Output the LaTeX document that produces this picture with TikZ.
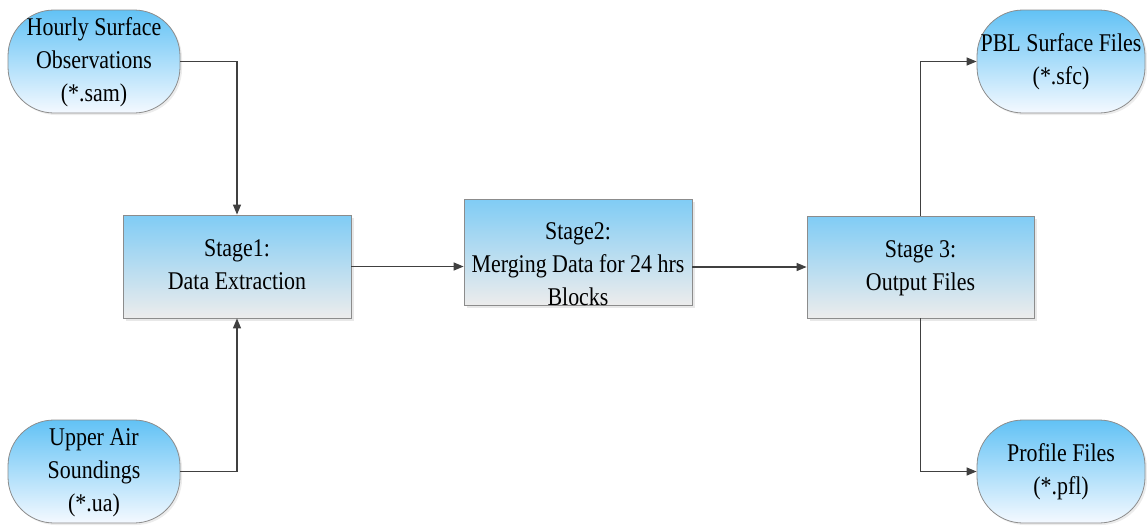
\documentclass[tikz,border=0pt]{standalone}
\usepackage{fontspec}
\setmainfont{Liberation Serif}
\newfontfamily\diagramfont{Liberation Serif}
\usetikzlibrary{arrows.meta,shadows}
\definecolor{boxtop}{RGB}{128,204,245}
\definecolor{boxbot}{RGB}{236,236,236}
\definecolor{termtop}{RGB}{98,194,245}
\definecolor{termbot}{RGB}{244,249,255}
\definecolor{edgegray}{RGB}{140,140,140}
\definecolor{linkgray}{RGB}{64,64,64}
% narrow, tall serif lines, centred
\newcommand\lbl[1]{\scalebox{0.86}[1]{\begin{tabular}{@{}c@{}}#1\end{tabular}}}
\tikzset{
  stagebox/.style={draw=edgegray, line width=0.8pt, top color=boxtop, bottom color=boxbot,
    minimum width=228pt, inner sep=0pt, align=center,
    drop shadow={shadow xshift=2.5pt, shadow yshift=-2.5pt, opacity=0.18, fill=gray}},
  terminal/.style={draw=edgegray, line width=0.8pt, top color=termtop, bottom color=termbot,
    rounded corners=46pt, minimum height=103pt, inner sep=0pt, align=center,
    drop shadow={shadow xshift=2pt, shadow yshift=-2pt, opacity=0.15, fill=gray}},
  label text/.style={align=center, inner sep=0pt},
  link/.style={draw=linkgray, line width=1.3pt, -{Triangle[length=10pt,width=8pt]}},
}
\begin{document}
\begin{tikzpicture}[x=1pt, y=-1pt, font=\diagramfont\fontsize{25.5}{33}\selectfont]
\useasboundingbox (0,0) rectangle (1147,525);

% source and output files
\node[terminal, minimum width=172pt] (hourly) at (94,61.5)
  {\lbl{Hourly Surface\\Observations\\(*.sam)}};
\node[terminal, minimum width=172pt] (upper) at (94,471.5)
  {\lbl{Upper Air\\Soundings\\(*.ua)}};
\node[terminal, minimum width=168pt] (pbl) at (1061,61.5)
  {\lbl{PBL Surface Files\\(*.sfc)}};
\node[terminal, minimum width=168pt] (profile) at (1061,471.5)
  {\lbl{Profile Files\\(*.pfl)}};

% processing stages
\node[stagebox, minimum height=103pt] (s1) at (237,266.5) {\lbl{Stage1:\\Data Extraction}};
\node[stagebox, minimum height=106pt] (s2) at (578,252) {};
\node[label text] (s2t) at (578,266) {\lbl{Stage2:\\Merging Data for 24 hrs\\Blocks}};
\node[stagebox, minimum width=227pt, minimum height=102pt] (s3) at (920.5,267) {\lbl{Stage 3:\\Output Files}};

% connectors
\draw[link] (hourly.east) -| (s1.north);
\draw[link] (upper.east) -| (s1.south);
\draw[link] (s1.east) -- (s1.east -| s2.west);
\draw[link] (s2.east |- s3.west) -- (s3.west);
\draw[link] (s3.north) |- (pbl.west);
\draw[link] (s3.south) |- (profile.west);
\end{tikzpicture}
\end{document}
